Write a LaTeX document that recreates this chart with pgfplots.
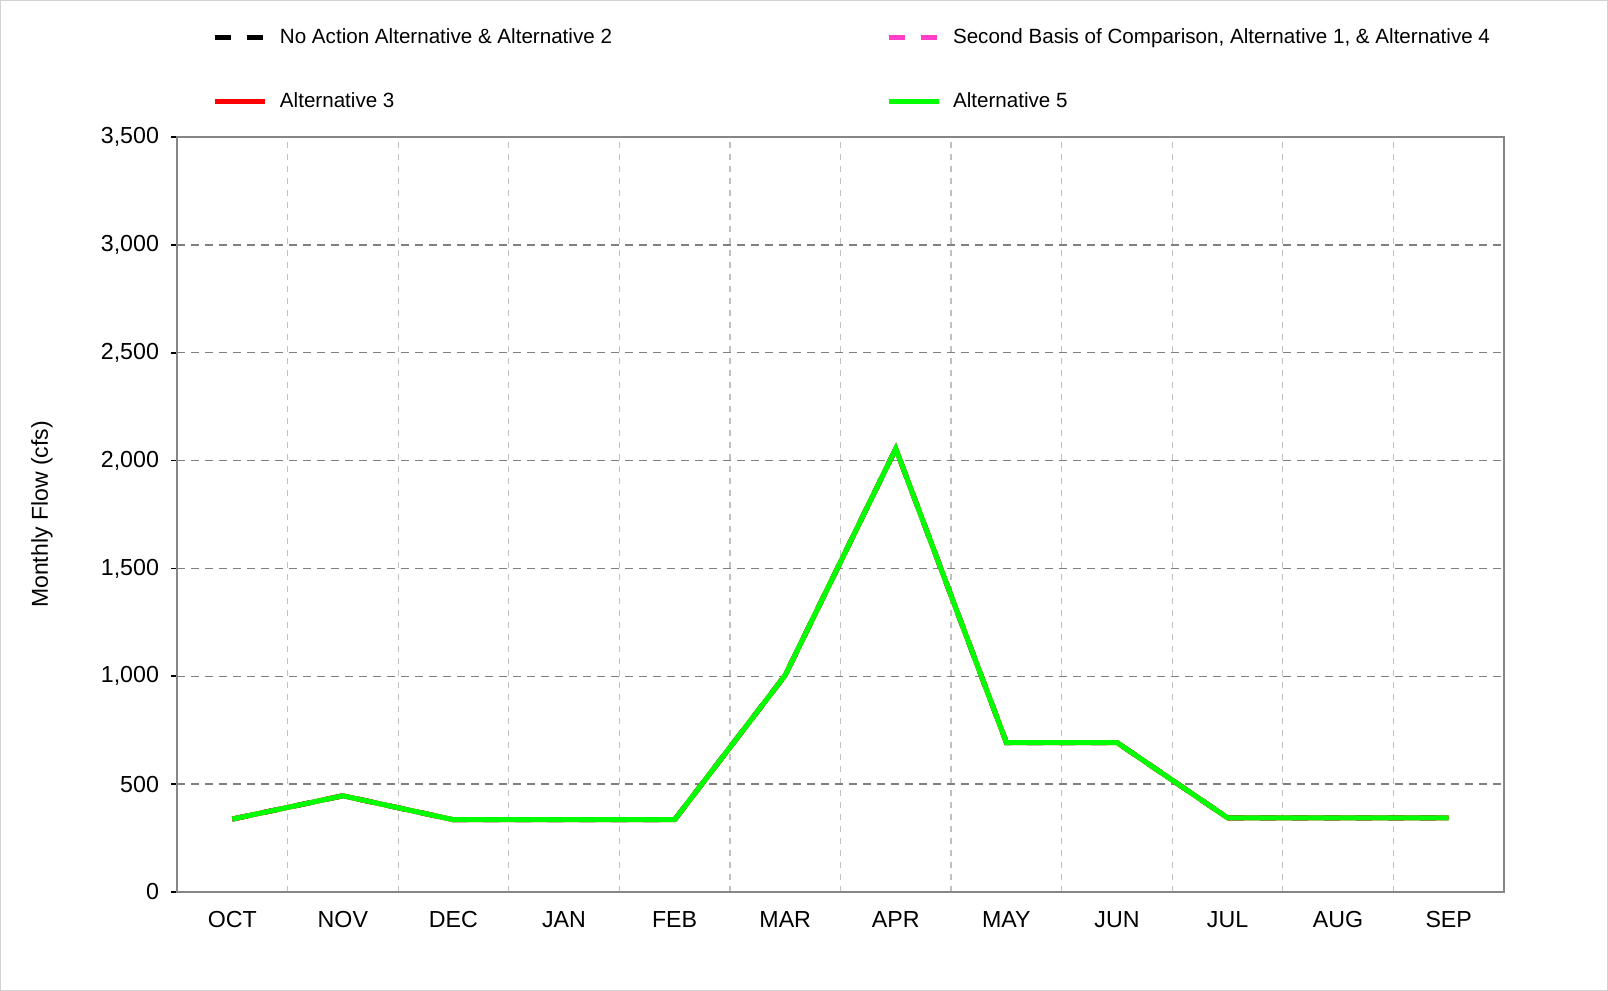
\documentclass[border=0pt]{standalone}
\usepackage{fontspec}
\setmainfont{Liberation Sans}
\usepackage{pgfplots}
\pgfplotsset{compat=1.18}
\definecolor{gridmaj}{HTML}{808080}
\definecolor{gridmin}{HTML}{C0C0C0}
\definecolor{axisgray}{HTML}{868686}
\definecolor{pinkalt}{HTML}{FF3FC8}
\definecolor{greenalt}{HTML}{00FF00}
\begin{document}
\begin{tikzpicture}
\useasboundingbox (0,0) rectangle (804pt,495.5pt);
\draw[gray!35, line width=0.6pt] (0.3pt,0.3pt) rectangle (803.7pt,495.2pt);
\begin{axis}[
  at={(88.5pt,49.5pt)}, anchor=south west,
  scale only axis, width=663.5pt, height=377.5pt,
  xmin=-0.5, xmax=11.5, ymin=0, ymax=3500,
  xtick={0,...,11},
  xticklabels={OCT,NOV,DEC,JAN,FEB,MAR,APR,MAY,JUN,JUL,AUG,SEP},
  minor xtick={0.5,1.5,...,10.5},
  ytick={0,500,...,3500},
  major x tick style={draw=none},
  minor x tick style={draw=none},
  y tick style={black, line width=0.8pt},
  tick align=outside, major tick length=3pt,
  ytick pos=left,
  xmajorgrids=false, xminorgrids=true, ymajorgrids=true,
  minor x grid style={gridmin, line width=0.6pt, dash pattern=on 3pt off 3pt},
  major y grid style={gridmaj, line width=0.7pt, dash pattern=on 4pt off 3pt},
  axis line style={axisgray, line width=1.2pt},
  ticklabel style={font=\fontsize{11.6}{13}\selectfont},
  yticklabel style={xshift=-2.5pt},
  xticklabel style={yshift=-3pt},
  /pgf/number format/.cd, 1000 sep={,}, assume math mode=true,
  /pgfplots/.cd,
  ylabel={Monthly Flow (cfs)},
  every axis y label/.style={at={(axis description cs:-0.1017,0.5)}, rotate=90, anchor=center, font=\fontsize{11.5}{13}\selectfont},
  legend columns=2,
  legend cell align=left,
  legend style={draw=none, fill=none, at={(axis description cs:0.0271,1.1449)}, anchor=north west,
    font=\fontsize{10.3}{12}\selectfont, inner sep=0pt, outer sep=0pt,
    /tikz/every odd column/.style={column sep=6pt},
    /tikz/every even column/.style={column sep=137pt},
    row sep=21.75pt,
    nodes={inner sep=0pt, text height=8pt, text depth=2pt}},
  legend image code/.code={\draw[#1] (0pt,0pt) -- (25pt,0pt);},
]
\addplot[black, line width=2.5pt, dash pattern=on 8pt off 8pt] coordinates {
(0,338) (1,446) (2,335) (3,335) (4,335) (5,1005) (6,2055) (7,693) (8,693) (9,344) (10,344) (11,344)};
\addlegendentry{No Action Alternative \& Alternative 2}
\addplot[pinkalt, line width=2.5pt, dash pattern=on 8pt off 8pt] coordinates {
(0,338) (1,446) (2,335) (3,335) (4,335) (5,1005) (6,2055) (7,693) (8,693) (9,344) (10,344) (11,344)};
\addlegendentry{Second Basis of Comparison, Alternative 1, \& Alternative 4}
\addplot[red, line width=2.5pt] coordinates {
(0,338) (1,446) (2,335) (3,335) (4,335) (5,1005) (6,2055) (7,693) (8,693) (9,344) (10,344) (11,344)};
\addlegendentry{Alternative 3}
\addplot[greenalt, line width=2.5pt] coordinates {
(0,338) (1,446) (2,335) (3,335) (4,335) (5,1005) (6,2055) (7,693) (8,693) (9,344) (10,344) (11,344)};
\addlegendentry{Alternative 5}
\end{axis}
\end{tikzpicture}
\end{document}
